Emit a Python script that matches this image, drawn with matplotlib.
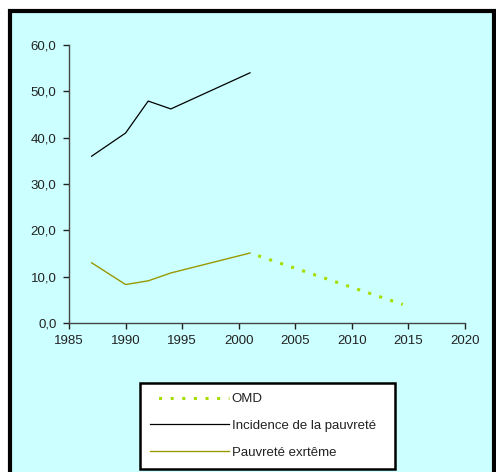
import matplotlib.pyplot as plt
from matplotlib.patches import Rectangle
from matplotlib.ticker import FuncFormatter

plt.rcParams['font.family'] = ['Liberation Sans', 'DejaVu Sans']

# data
years = [1987, 1990, 1992, 1994, 2001]
incidence = [36.0, 41.0, 47.9, 46.2, 54.0]
extreme = [13.0, 8.3, 9.1, 10.8, 15.1]
omd_years = [2001, 2014.5]
omd = [15.1, 4.0]

W, H = 496, 472
fig = plt.figure(figsize=(W / 100, H / 100), dpi=100, facecolor='white')

# cyan chart frame, behind the axes
frame = Rectangle((10 / W, -0.02), (494 - 10) / W, (H - 11) / H + 0.02, transform=fig.transFigure,
                  facecolor='#CCFFFF', edgecolor='black', linewidth=3, zorder=-5)
fig.patches.append(frame)

ax = fig.add_axes([69 / W, (H - 323) / H, (465 - 69) / W, (323 - 45) / H])
ax.patch.set_alpha(0)

l_omd, = ax.plot(omd_years, omd, color='#A6DD00', linewidth=2.2,
                 linestyle=(1.0, (1.0, 2.8)), label='OMD')
l_inc, = ax.plot(years, incidence, color='black', linewidth=0.9,
                 label='Incidence de la pauvreté')
l_ext, = ax.plot(years, extreme, color='#999900', linewidth=1.0,
                 label='Pauvreté exrtême')

ax.set_xlim(1985, 2020)
ax.set_ylim(0, 60)
ax.set_xticks(range(1985, 2021, 5))
ax.set_yticks(range(0, 61, 10))
ax.yaxis.set_major_formatter(FuncFormatter(lambda v, p: f'{v:.1f}'.replace('.', ',')))

for s in ['top', 'right']:
    ax.spines[s].set_visible(False)
for s in ['left', 'bottom']:
    ax.spines[s].set_color('#444444')
    ax.spines[s].set_linewidth(1.0)
ax.tick_params(direction='out', length=4, width=1, color='#222222',
               labelsize=9.5, labelcolor='#222222', pad=5)

leg = ax.legend(handles=[l_omd, l_inc, l_ext],
                bbox_to_anchor=(140 / W, (H - 468) / H, (395 - 140) / W, (468 - 383) / H),
                bbox_transform=fig.transFigure, loc='upper left', mode='expand',
                fontsize=9.5, frameon=True, fancybox=False, framealpha=1,
                handlelength=6.0, handletextpad=0.2, borderpad=0.75,
                labelspacing=1.1, borderaxespad=0)
leg._legend_box.set_offset  # keep default packing
leg.get_frame().set_edgecolor('black')
leg.get_frame().set_linewidth(1.8)
leg.get_frame().set_facecolor('white')
for t in leg.get_texts():
    t.set_color('#222222')

fig.savefig('out.png', dpi=100, facecolor='white')
